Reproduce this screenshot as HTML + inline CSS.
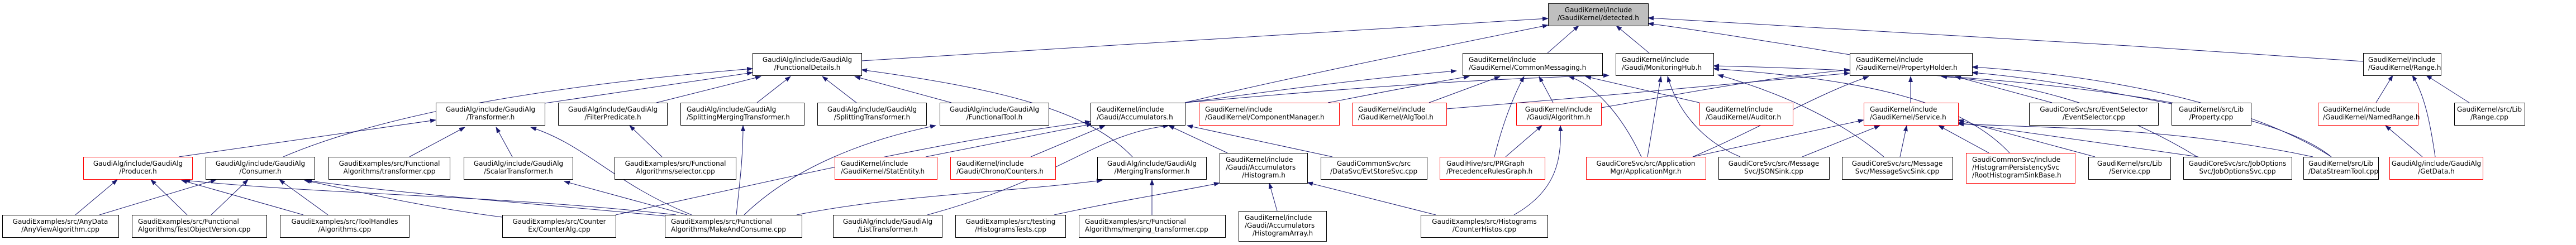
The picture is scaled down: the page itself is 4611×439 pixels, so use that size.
<!DOCTYPE html>
<html><head><meta charset="utf-8"><style>
html,body{margin:0;padding:0;background:#fff;}
svg{display:block;}
text{font-family:"DejaVu Sans","Liberation Sans",sans-serif;font-size:12px;fill:#000;}
.e{fill:none;stroke:#191970;stroke-width:1;}
</style></head><body>
<svg width="4611" height="439" viewBox="0 0 4611 439" xmlns="http://www.w3.org/2000/svg">
<defs><marker id="a" markerWidth="11" markerHeight="8" refX="10" refY="4" orient="auto" markerUnits="userSpaceOnUse"><path d="M0,0 L11,4 L0,8 Z" fill="#191970"/></marker></defs>
<g class="e" marker-end="url(#a)">
<path d="M1542,109 C2000,80 2400,55 2771,33" marker-end="url(#a)"/>
<path d="M2121,184 C2300,140 2600,80 2771,45" marker-end="url(#a)"/>
<path d="M2770,95 L2826,46" marker-end="url(#a)"/>
<path d="M2952,95 L2893,46" marker-end="url(#a)"/>
<path d="M4230,110 C3800,80 3300,50 2950,32" marker-end="url(#a)"/>
<path d="M3311,98 C3200,80 3050,55 2950,42" marker-end="url(#a)"/>
<path d="M507,281 C650,220 900,160 1347,123" marker-end="url(#a)"/>
<path d="M975,185 L1347,130" marker-end="url(#a)"/>
<path d="M1175,184 L1362,137" marker-end="url(#a)"/>
<path d="M1355,184 L1415,137" marker-end="url(#a)"/>
<path d="M1533,184 L1472,137" marker-end="url(#a)"/>
<path d="M1703,184 L1530,137" marker-end="url(#a)"/>
<path d="M2027,281 C1950,200 1800,160 1542,125" marker-end="url(#a)"/>
<path d="M320,281 L780,215" marker-end="url(#a)"/>
<path d="M733,281 L832,228" marker-end="url(#a)"/>
<path d="M917,281 L888,228" marker-end="url(#a)"/>
<path d="M1238,385 C1100,330 1050,260 950,228" marker-end="url(#a)"/>
<path d="M1185,281 L1127,225" marker-end="url(#a)"/>
<path d="M135,385 L210,322" marker-end="url(#a)"/>
<path d="M335,385 L270,322" marker-end="url(#a)"/>
<path d="M543,385 L325,323" marker-end="url(#a)"/>
<path d="M1210,385 C900,350 600,350 330,323" marker-end="url(#a)"/>
<path d="M178,385 L387,322" marker-end="url(#a)"/>
<path d="M378,385 L444,322" marker-end="url(#a)"/>
<path d="M587,385 L500,322" marker-end="url(#a)"/>
<path d="M899,389 C750,370 650,345 545,323" marker-end="url(#a)"/>
<path d="M1190,387 C900,360 700,345 548,323" marker-end="url(#a)"/>
<path d="M1318,385 C1325,320 1330,280 1330,225" marker-end="url(#a)"/>
<path d="M1230,385 L1010,325" marker-end="url(#a)"/>
<path d="M1102,385 C1400,320 1700,250 1952,218" marker-end="url(#a)"/>
<path d="M1332,385 C1420,300 1550,250 1675,225" marker-end="url(#a)"/>
<path d="M1426,385 C1600,350 1800,345 1973,323" marker-end="url(#a)"/>
<path d="M1657,281 L1955,222" marker-end="url(#a)"/>
<path d="M1845,281 L1978,225" marker-end="url(#a)"/>
<path d="M2197,274 L2092,225" marker-end="url(#a)"/>
<path d="M2385,281 L2125,225" marker-end="url(#a)"/>
<path d="M1660,385 C1900,320 1960,240 2092,225" marker-end="url(#a)"/>
<path d="M2062,385 L2062,322" marker-end="url(#a)"/>
<path d="M2286,378 L2272,328" marker-end="url(#a)"/>
<path d="M1887,385 C2000,360 2100,345 2183,328" marker-end="url(#a)"/>
<path d="M2570,385 L2340,327" marker-end="url(#a)"/>
<path d="M2710,385 C2790,340 2795,280 2793,225" marker-end="url(#a)"/>
<path d="M2121,184 C2300,160 2450,140 2607,127" marker-end="url(#a)"/>
<path d="M2377,184 C2450,170 2550,150 2630,137" marker-end="url(#a)"/>
<path d="M2558,184 L2685,137" marker-end="url(#a)"/>
<path d="M2675,281 C2690,220 2710,170 2728,137" marker-end="url(#a)"/>
<path d="M2780,184 L2755,137" marker-end="url(#a)"/>
<path d="M2938,281 C2900,200 2850,150 2808,137" marker-end="url(#a)"/>
<path d="M3042,184 L2838,137" marker-end="url(#a)"/>
<path d="M2695,281 L2760,225" marker-end="url(#a)"/>
<path d="M2949,281 L2973,137" marker-end="url(#a)"/>
<path d="M3115,281 C3040,250 3000,190 2985,137" marker-end="url(#a)"/>
<path d="M4173,281 C4050,180 3600,130 3067,118" marker-end="url(#a)"/>
<path d="M2866,193 C3000,170 3150,140 3311,125" marker-end="url(#a)"/>
<path d="M2589,195 C2900,170 3150,145 3311,131" marker-end="url(#a)"/>
<path d="M2121,184 C2500,150 2700,140 2880,135" marker-end="url(#a)"/>
<path d="M3420,184 L3420,137" marker-end="url(#a)"/>
<path d="M3673,184 L3500,137" marker-end="url(#a)"/>
<path d="M3887,186 C3750,160 3650,140 3530,130" marker-end="url(#a)"/>
<path d="M3933,281 C3800,200 3650,150 3475,137" marker-end="url(#a)"/>
<path d="M3597,274 C3500,170 3300,140 3067,123" marker-end="url(#a)"/>
<path d="M3372,281 C3300,220 3200,170 3075,134" marker-end="url(#a)"/>
<path d="M3226,281 L3365,225" marker-end="url(#a)"/>
<path d="M3401,281 L3413,225" marker-end="url(#a)"/>
<path d="M3560,274 L3470,225" marker-end="url(#a)"/>
<path d="M3750,281 L3505,215" marker-end="url(#a)"/>
<path d="M3935,281 L3505,220" marker-end="url(#a)"/>
<path d="M4140,281 C3900,230 3700,230 3505,222" marker-end="url(#a)"/>
<path d="M3030,281 L3336,215" marker-end="url(#a)"/>
<path d="M3030,281 C3150,230 3250,170 3345,137" marker-end="url(#a)"/>
<path d="M4173,281 C4000,170 3700,130 3530,120" marker-end="url(#a)"/>
<path d="M4253,184 L4283,135" marker-end="url(#a)"/>
<path d="M4359,281 C4350,220 4340,170 4318,135" marker-end="url(#a)"/>
<path d="M4420,184 L4343,135" marker-end="url(#a)"/>
<path d="M4336,281 L4270,225" marker-end="url(#a)"/>
</g>
<g stroke-width="1">
<!-- row 0 -->
<rect x="2771.5" y="6.5" width="179" height="40" fill="#bfbfbf" stroke="#000"/>
<text x="2861" y="22" text-anchor="middle">GaudiKernel/include</text><text x="2861" y="36" text-anchor="middle">/GaudiKernel/detected.h</text>
<!-- row 1 -->
<rect x="1347.5" y="95.5" width="195" height="40" fill="#fff" stroke="#000"/>
<text x="1445" y="111" text-anchor="middle">GaudiAlg/include/GaudiAlg</text><text x="1445" y="125" text-anchor="middle">/FunctionalDetails.h</text>
<rect x="2618.5" y="95.5" width="250" height="40" fill="#fff" stroke="#000"/>
<text x="2629" y="111">GaudiKernel/include</text><text x="2629" y="125">/GaudiKernel/CommonMessaging.h</text>
<rect x="2892.5" y="95.5" width="175" height="40" fill="#fff" stroke="#000"/>
<text x="2903" y="111">GaudiKernel/include</text><text x="2903" y="125">/Gaudi/MonitoringHub.h</text>
<rect x="3311.5" y="95.5" width="219" height="40" fill="#fff" stroke="#000"/>
<text x="3322" y="111">GaudiKernel/include</text><text x="3322" y="125">/GaudiKernel/PropertyHolder.h</text>
<rect x="4230.5" y="95.5" width="139" height="40" fill="#fff" stroke="#000"/>
<text x="4239" y="111">GaudiKernel/include</text><text x="4239" y="125">/GaudiKernel/Range.h</text>
<!-- row 2 -->
<rect x="780.5" y="184.5" width="195" height="40" fill="#fff" stroke="#000"/>
<text x="878" y="200" text-anchor="middle">GaudiAlg/include/GaudiAlg</text><text x="878" y="214" text-anchor="middle">/Transformer.h</text>
<rect x="999.5" y="184.5" width="195" height="40" fill="#fff" stroke="#000"/>
<text x="1097" y="200" text-anchor="middle">GaudiAlg/include/GaudiAlg</text><text x="1097" y="214" text-anchor="middle">/FilterPredicate.h</text>
<rect x="1218.5" y="184.5" width="221" height="40" fill="#fff" stroke="#000"/>
<text x="1229" y="200">GaudiAlg/include/GaudiAlg</text><text x="1229" y="214">/SplittingMergingTransformer.h</text>
<rect x="1463.5" y="184.5" width="195" height="40" fill="#fff" stroke="#000"/>
<text x="1561" y="200" text-anchor="middle">GaudiAlg/include/GaudiAlg</text><text x="1561" y="214" text-anchor="middle">/SplittingTransformer.h</text>
<rect x="1682.5" y="184.5" width="195" height="40" fill="#fff" stroke="#000"/>
<text x="1780" y="200" text-anchor="middle">GaudiAlg/include/GaudiAlg</text><text x="1780" y="214" text-anchor="middle">/FunctionalTool.h</text>
<rect x="1952.5" y="184.5" width="169" height="40" fill="#fff" stroke="#000"/>
<text x="1963" y="200">GaudiKernel/include</text><text x="1963" y="214">/Gaudi/Accumulators.h</text>
<rect x="2146.5" y="184.5" width="251" height="40" fill="#fff" stroke="#f00"/>
<text x="2157" y="200">GaudiKernel/include</text><text x="2157" y="214">/GaudiKernel/ComponentManager.h</text>
<rect x="2420.5" y="184.5" width="169" height="40" fill="#fff" stroke="#f00"/>
<text x="2431" y="200">GaudiKernel/include</text><text x="2431" y="214">/GaudiKernel/AlgTool.h</text>
<rect x="2714.5" y="184.5" width="152" height="40" fill="#fff" stroke="#f00"/>
<text x="2790" y="200" text-anchor="middle">GaudiKernel/include</text><text x="2790" y="214" text-anchor="middle">/Gaudi/Algorithm.h</text>
<rect x="3042.5" y="184.5" width="167" height="40" fill="#fff" stroke="#f00"/>
<text x="3053" y="200">GaudiKernel/include</text><text x="3053" y="214">/GaudiKernel/Auditor.h</text>
<rect x="3336.5" y="184.5" width="169" height="40" fill="#fff" stroke="#f00"/>
<text x="3347" y="200">GaudiKernel/include</text><text x="3347" y="214">/GaudiKernel/Service.h</text>
<rect x="3632.5" y="184.5" width="231" height="40" fill="#fff" stroke="#000"/>
<text x="3748" y="200" text-anchor="middle">GaudiCoreSvc/src/EventSelector</text><text x="3748" y="214" text-anchor="middle">/EventSelector.cpp</text>
<rect x="3887.5" y="184.5" width="142" height="40" fill="#fff" stroke="#000"/>
<text x="3958" y="200" text-anchor="middle">GaudiKernel/src/Lib</text><text x="3958" y="214" text-anchor="middle">/Property.cpp</text>
<rect x="4149.5" y="184.5" width="179" height="40" fill="#fff" stroke="#f00"/>
<text x="4158" y="200">GaudiKernel/include</text><text x="4158" y="214">/GaudiKernel/NamedRange.h</text>
<rect x="4393.5" y="184.5" width="126" height="40" fill="#fff" stroke="#000"/>
<text x="4456" y="200" text-anchor="middle">GaudiKernel/src/Lib</text><text x="4456" y="214" text-anchor="middle">/Range.cpp</text>
<!-- row 3 -->
<rect x="149.5" y="281.5" width="195" height="40" fill="#fff" stroke="#f00"/>
<text x="247" y="297" text-anchor="middle">GaudiAlg/include/GaudiAlg</text><text x="247" y="311" text-anchor="middle">/Producer.h</text>
<rect x="368.5" y="281.5" width="195" height="40" fill="#fff" stroke="#000"/>
<text x="466" y="297" text-anchor="middle">GaudiAlg/include/GaudiAlg</text><text x="466" y="311" text-anchor="middle">/Consumer.h</text>
<rect x="588.5" y="281.5" width="217" height="40" fill="#fff" stroke="#000"/>
<text x="697" y="297" text-anchor="middle">GaudiExamples/src/Functional</text><text x="697" y="311" text-anchor="middle">Algorithms/transformer.cpp</text>
<rect x="830.5" y="281.5" width="195" height="40" fill="#fff" stroke="#000"/>
<text x="928" y="297" text-anchor="middle">GaudiAlg/include/GaudiAlg</text><text x="928" y="311" text-anchor="middle">/ScalarTransformer.h</text>
<rect x="1100.5" y="281.5" width="217" height="40" fill="#fff" stroke="#000"/>
<text x="1209" y="297" text-anchor="middle">GaudiExamples/src/Functional</text><text x="1209" y="311" text-anchor="middle">Algorithms/selector.cpp</text>
<rect x="1494.5" y="281.5" width="183" height="40" fill="#fff" stroke="#f00"/>
<text x="1505" y="297">GaudiKernel/include</text><text x="1505" y="311">/GaudiKernel/StatEntity.h</text>
<rect x="1701.5" y="281.5" width="188" height="40" fill="#fff" stroke="#f00"/>
<text x="1712" y="297">GaudiKernel/include</text><text x="1712" y="311">/Gaudi/Chrono/Counters.h</text>
<rect x="1964.5" y="281.5" width="195" height="40" fill="#fff" stroke="#000"/>
<text x="2062" y="297" text-anchor="middle">GaudiAlg/include/GaudiAlg</text><text x="2062" y="311" text-anchor="middle">/MergingTransformer.h</text>
<rect x="2183.5" y="274.5" width="157" height="54" fill="#fff" stroke="#000"/>
<text x="2194" y="290">GaudiKernel/include</text><text x="2194" y="304">/Gaudi/Accumulators</text><text x="2262" y="318" text-anchor="middle">/Histogram.h</text>
<rect x="2364.5" y="281.5" width="190" height="40" fill="#fff" stroke="#000"/>
<text x="2459" y="297" text-anchor="middle">GaudiCommonSvc/src</text><text x="2459" y="311" text-anchor="middle">/DataSvc/EvtStoreSvc.cpp</text>
<rect x="2577.5" y="281.5" width="188" height="40" fill="#fff" stroke="#f00"/>
<text x="2589" y="297">GaudiHive/src/PRGraph</text><text x="2589" y="311">/PrecedenceRulesGraph.h</text>
<rect x="2839.5" y="281.5" width="214" height="40" fill="#fff" stroke="#f00"/>
<text x="2946" y="297" text-anchor="middle">GaudiCoreSvc/src/Application</text><text x="2946" y="311" text-anchor="middle">Mgr/ApplicationMgr.h</text>
<rect x="3076.5" y="281.5" width="198" height="40" fill="#fff" stroke="#000"/>
<text x="3175" y="297" text-anchor="middle">GaudiCoreSvc/src/Message</text><text x="3175" y="311" text-anchor="middle">Svc/JSONSink.cpp</text>
<rect x="3297.5" y="281.5" width="198" height="40" fill="#fff" stroke="#000"/>
<text x="3396" y="297" text-anchor="middle">GaudiCoreSvc/src/Message</text><text x="3396" y="311" text-anchor="middle">Svc/MessageSvcSink.cpp</text>
<rect x="3519.5" y="274.5" width="195" height="54" fill="#fff" stroke="#f00"/>
<text x="3530" y="290">GaudiCommonSvc/include</text><text x="3530" y="304">/HistogramPersistencySvc</text><text x="3530" y="318">/RootHistogramSinkBase.h</text>
<rect x="3738.5" y="281.5" width="147" height="40" fill="#fff" stroke="#000"/>
<text x="3812" y="297" text-anchor="middle">GaudiKernel/src/Lib</text><text x="3812" y="311" text-anchor="middle">/Service.cpp</text>
<rect x="3908.5" y="281.5" width="194" height="40" fill="#fff" stroke="#000"/>
<text x="4005" y="297" text-anchor="middle">GaudiCoreSvc/src/JobOptions</text><text x="4005" y="311" text-anchor="middle">Svc/JobOptionsSvc.cpp</text>
<rect x="4123.5" y="281.5" width="134" height="40" fill="#fff" stroke="#000"/>
<text x="4132" y="297">GaudiKernel/src/Lib</text><text x="4132" y="311">/DataStreamTool.cpp</text>
<rect x="4277.5" y="281.5" width="167" height="40" fill="#fff" stroke="#f00"/>
<text x="4361" y="297" text-anchor="middle">GaudiAlg/include/GaudiAlg</text><text x="4361" y="311" text-anchor="middle">/GetData.h</text>
<!-- row 4 -->
<rect x="4.5" y="385.5" width="208" height="40" fill="#fff" stroke="#000"/>
<text x="108" y="401" text-anchor="middle">GaudiExamples/src/AnyData</text><text x="108" y="415" text-anchor="middle">/AnyViewAlgorithm.cpp</text>
<rect x="236.5" y="385.5" width="241" height="40" fill="#fff" stroke="#000"/>
<text x="247" y="401">GaudiExamples/src/Functional</text><text x="247" y="415">Algorithms/TestObjectVersion.cpp</text>
<rect x="501.5" y="385.5" width="231" height="40" fill="#fff" stroke="#000"/>
<text x="617" y="401" text-anchor="middle">GaudiExamples/src/ToolHandles</text><text x="617" y="415" text-anchor="middle">/Algorithms.cpp</text>
<rect x="899.5" y="385.5" width="203" height="40" fill="#fff" stroke="#000"/>
<text x="1001" y="401" text-anchor="middle">GaudiExamples/src/Counter</text><text x="1001" y="415" text-anchor="middle">Ex/CounterAlg.cpp</text>
<rect x="1190.5" y="385.5" width="245" height="40" fill="#fff" stroke="#000"/>
<text x="1201" y="401">GaudiExamples/src/Functional</text><text x="1201" y="415">Algorithms/MakeAndConsume.cpp</text>
<rect x="1491.5" y="385.5" width="195" height="40" fill="#fff" stroke="#000"/>
<text x="1589" y="401" text-anchor="middle">GaudiAlg/include/GaudiAlg</text><text x="1589" y="415" text-anchor="middle">/ListTransformer.h</text>
<rect x="1710.5" y="385.5" width="197" height="40" fill="#fff" stroke="#000"/>
<text x="1809" y="401" text-anchor="middle">GaudiExamples/src/testing</text><text x="1809" y="415" text-anchor="middle">/HistogramsTests.cpp</text>
<rect x="1931.5" y="385.5" width="262" height="40" fill="#fff" stroke="#000"/>
<text x="1942" y="401">GaudiExamples/src/Functional</text><text x="1942" y="415">Algorithms/merging_transformer.cpp</text>
<rect x="2217.5" y="378.5" width="157" height="54" fill="#fff" stroke="#000"/>
<text x="2228" y="394">GaudiKernel/include</text><text x="2228" y="408">/Gaudi/Accumulators</text><text x="2296" y="422" text-anchor="middle">/HistogramArray.h</text>
<rect x="2543.5" y="385.5" width="227" height="40" fill="#fff" stroke="#000"/>
<text x="2657" y="401" text-anchor="middle">GaudiExamples/src/Histograms</text><text x="2657" y="415" text-anchor="middle">/CounterHistos.cpp</text>
</g>
</svg>
</body></html>
